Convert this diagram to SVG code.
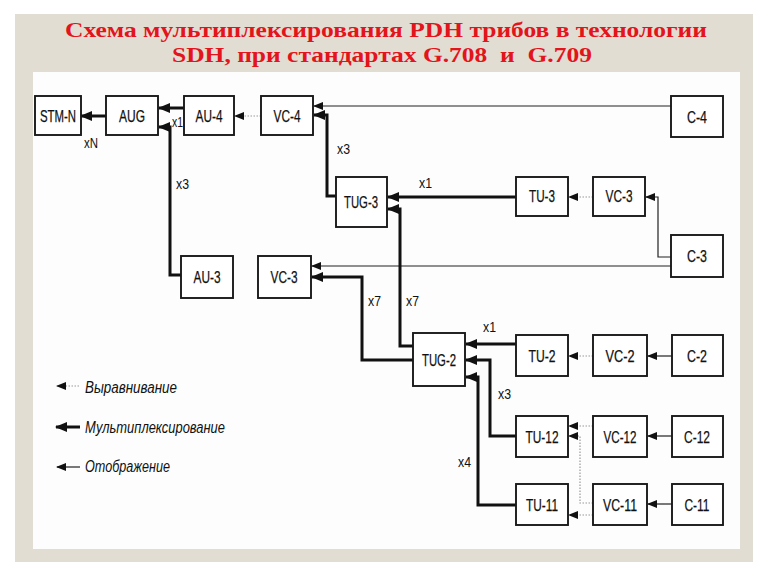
<svg xmlns="http://www.w3.org/2000/svg" width="768" height="576" viewBox="0 0 768 576">
<style>
.box{fill:#fff;stroke:#1a1a1a;stroke-width:1.9}
.nt{font-family:"Liberation Sans",Arial,sans-serif;font-size:16.5px;fill:#111;stroke:#111;stroke-width:0.25;text-anchor:middle}
.lb{font-family:"Liberation Sans",Arial,sans-serif;font-size:15px;fill:#111}
.lg{font-family:"Liberation Sans",Arial,sans-serif;font-size:16px;font-style:italic;fill:#111}
.thick{fill:none;stroke:#111;stroke-width:3;marker-end:url(#ah)}
.thin{fill:none;stroke:#222;stroke-width:1.2;marker-end:url(#at)}
.dot{fill:none;stroke:#9a9a9a;stroke-width:1.2;stroke-dasharray:1.5 1.5;marker-end:url(#at)}
.title{font-family:"Liberation Serif","Times New Roman",serif;font-weight:bold;font-size:21.5px;fill:#e3141b;text-anchor:middle}
</style>
<defs>
<marker id="ah" markerUnits="userSpaceOnUse" markerWidth="12" markerHeight="12" viewBox="0 0 12 12" refX="11" refY="6" orient="auto"><path d="M0,1 L12,6 L0,11 z" fill="#111"/></marker>
<marker id="at" markerUnits="userSpaceOnUse" markerWidth="10" markerHeight="10" viewBox="0 0 10 10" refX="9" refY="5" orient="auto"><path d="M0,1 L10,5 L0,9 z" fill="#111"/></marker>
</defs>
<rect x="0" y="0" width="768" height="576" fill="#fff"/>
<rect x="15" y="14" width="738" height="548" fill="#e2ddd3"/>
<rect x="33" y="72" width="707" height="477" fill="#fdfdfd"/>
<g id="title">
<text class="title" x="386" y="37" textLength="642" lengthAdjust="spacingAndGlyphs">Схема мультиплексирования PDH трибов в технологии</text>
<text class="title" x="382" y="62" textLength="420" lengthAdjust="spacingAndGlyphs" xml:space="preserve">SDH, при стандартах G.708  и  G.709</text>
</g>
<g id="connectors">
<path class="thick" d="M106,116 H81"/>
<path class="thick" d="M184,108 H159"/>
<path class="thick" d="M181,275 H170 V127 H159"/>
<path class="dot" d="M261,116 H235"/>
<path class="thin" d="M671,106 H314"/>
<path class="thick" d="M336,196 H327 V115 H314"/>
<path class="thick" d="M516,197 H388"/>
<path class="dot" d="M593,197 H569"/>
<path class="thin" d="M671,257 H658 V197 H646"/>
<path class="thin" d="M671,266 H312"/>
<path class="thick" d="M413,346 H400 V209 H388"/>
<path class="thick" d="M413,360 H362 V277 H312"/>
<path class="thick" d="M516,344 H466"/>
<path class="dot" d="M593,356 H569"/>
<path class="thin" d="M672,356 H648"/>
<path class="thick" d="M516,436 H490 V360 H466"/>
<path class="thick" d="M516,505 H478 V377 H466"/>
<path class="dot" d="M593,426 H569"/>
<path class="dot" d="M593,503 H580 V436 H569"/>
<path class="dot" d="M593,515 H569"/>
<path class="thin" d="M672,436 H648"/>
<path class="thin" d="M672,504 H648"/>
</g>
<g id="labels">
<text class="lb" x="84" y="148" textLength="14" lengthAdjust="spacingAndGlyphs">xN</text>
<text class="lb" x="172" y="127" textLength="11" lengthAdjust="spacingAndGlyphs">x1</text>
<text class="lb" x="176" y="189" textLength="13" lengthAdjust="spacingAndGlyphs">x3</text>
<text class="lb" x="337" y="154" textLength="13" lengthAdjust="spacingAndGlyphs">x3</text>
<text class="lb" x="419" y="188" textLength="13" lengthAdjust="spacingAndGlyphs">x1</text>
<text class="lb" x="368" y="306" textLength="13" lengthAdjust="spacingAndGlyphs">x7</text>
<text class="lb" x="406" y="306" textLength="13" lengthAdjust="spacingAndGlyphs">x7</text>
<text class="lb" x="483" y="332" textLength="13" lengthAdjust="spacingAndGlyphs">x1</text>
<text class="lb" x="498" y="399" textLength="13" lengthAdjust="spacingAndGlyphs">x3</text>
<text class="lb" x="458" y="467" textLength="13" lengthAdjust="spacingAndGlyphs">x4</text>
</g>
<g id="STM-N"><rect class="box" x="35" y="96" width="46" height="39"/><text class="nt" x="58" y="121.5" textLength="36" lengthAdjust="spacingAndGlyphs">STM-N</text></g>
<g id="AUG"><rect class="box" x="106" y="96" width="52" height="39"/><text class="nt" x="132" y="121.5" textLength="26" lengthAdjust="spacingAndGlyphs">AUG</text></g>
<g id="AU-4"><rect class="box" x="184" y="96" width="50" height="39"/><text class="nt" x="209" y="121.5" textLength="27" lengthAdjust="spacingAndGlyphs">AU-4</text></g>
<g id="VC-4"><rect class="box" x="261" y="96" width="52" height="39"/><text class="nt" x="287" y="121.5" textLength="27" lengthAdjust="spacingAndGlyphs">VC-4</text></g>
<g id="C-4"><rect class="box" x="671" y="96" width="52" height="41"/><text class="nt" x="697" y="122.5" textLength="20" lengthAdjust="spacingAndGlyphs">C-4</text></g>
<g id="TUG-3"><rect class="box" x="336" y="177" width="51" height="50"/><text class="nt" x="361" y="208" textLength="34" lengthAdjust="spacingAndGlyphs">TUG-3</text></g>
<g id="TU-3"><rect class="box" x="516" y="177" width="52" height="39"/><text class="nt" x="542" y="202" textLength="26" lengthAdjust="spacingAndGlyphs">TU-3</text></g>
<g id="VC-3r"><rect class="box" x="593" y="177" width="52" height="39"/><text class="nt" x="619" y="202" textLength="27" lengthAdjust="spacingAndGlyphs">VC-3</text></g>
<g id="C-3"><rect class="box" x="671" y="235" width="52" height="42"/><text class="nt" x="697" y="262" textLength="20" lengthAdjust="spacingAndGlyphs">C-3</text></g>
<g id="AU-3"><rect class="box" x="181" y="256" width="52" height="42"/><text class="nt" x="207" y="283" textLength="27" lengthAdjust="spacingAndGlyphs">AU-3</text></g>
<g id="VC-3l"><rect class="box" x="258" y="256" width="53" height="42"/><text class="nt" x="284" y="283" textLength="27" lengthAdjust="spacingAndGlyphs">VC-3</text></g>
<g id="TUG-2"><rect class="box" x="413" y="333" width="52" height="53"/><text class="nt" x="439" y="366" textLength="34" lengthAdjust="spacingAndGlyphs">TUG-2</text></g>
<g id="TU-2"><rect class="box" x="516" y="335" width="52" height="41"/><text class="nt" x="542" y="361.5" textLength="27" lengthAdjust="spacingAndGlyphs">TU-2</text></g>
<g id="VC-2"><rect class="box" x="593" y="335" width="54" height="41"/><text class="nt" x="620" y="361.5" textLength="29" lengthAdjust="spacingAndGlyphs">VC-2</text></g>
<g id="C-2"><rect class="box" x="672" y="335" width="51" height="41"/><text class="nt" x="697" y="361.5" textLength="20" lengthAdjust="spacingAndGlyphs">C-2</text></g>
<g id="TU-12"><rect class="box" x="516" y="416" width="52" height="41"/><text class="nt" x="542" y="442.5" textLength="33" lengthAdjust="spacingAndGlyphs">TU-12</text></g>
<g id="VC-12"><rect class="box" x="593" y="416" width="54" height="41"/><text class="nt" x="620" y="442.5" textLength="33" lengthAdjust="spacingAndGlyphs">VC-12</text></g>
<g id="C-12"><rect class="box" x="672" y="416" width="51" height="41"/><text class="nt" x="697" y="442.5" textLength="26" lengthAdjust="spacingAndGlyphs">C-12</text></g>
<g id="TU-11"><rect class="box" x="516" y="484" width="52" height="41"/><text class="nt" x="542" y="510.5" textLength="32" lengthAdjust="spacingAndGlyphs">TU-11</text></g>
<g id="VC-11"><rect class="box" x="593" y="484" width="54" height="41"/><text class="nt" x="620" y="510.5" textLength="34" lengthAdjust="spacingAndGlyphs">VC-11</text></g>
<g id="C-11"><rect class="box" x="672" y="484" width="51" height="41"/><text class="nt" x="697" y="510.5" textLength="25" lengthAdjust="spacingAndGlyphs">C-11</text></g>
<g id="legend">
<path class="dot" d="M79,386 H57"/>
<path class="thick" d="M80,427 H56"/>
<path class="thin" d="M80,467 H57"/>
<text class="lg" x="85" y="393" textLength="92" lengthAdjust="spacingAndGlyphs">Выравнивание</text>
<text class="lg" x="85" y="433" textLength="140" lengthAdjust="spacingAndGlyphs">Мультиплексирование</text>
<text class="lg" x="85" y="472" textLength="85" lengthAdjust="spacingAndGlyphs">Отображение</text>
</g>
</svg>
